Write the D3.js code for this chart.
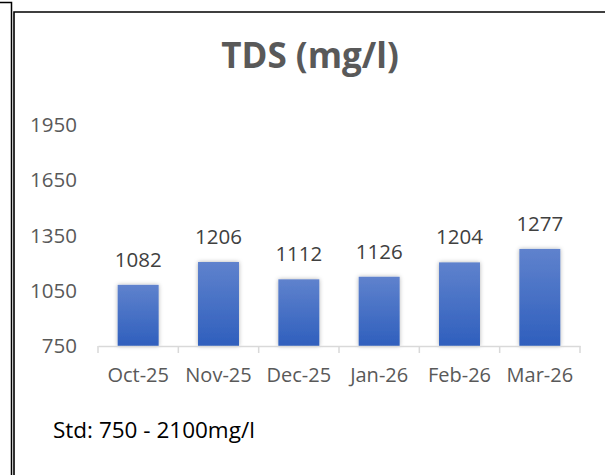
<!DOCTYPE html>
<html><head><meta charset="utf-8">
<script src="https://cdn.jsdelivr.net/npm/d3@7/dist/d3.min.js"></script>
<style>html,body{margin:0;padding:0;background:#fff;}svg{display:block;}</style>
</head><body>
<script>
const categories = ["Oct-25","Nov-25","Dec-25","Jan-26","Feb-26","Mar-26"];
const values = [1082, 1206, 1112, 1126, 1204, 1277];
const yTicks = [750, 1050, 1350, 1650, 1950];
const title = "TDS (mg/l)";
const note = "Std: 750 - 2100mg/l";

const W = 605, H = 475;
const svg = d3.select("body").append("svg").attr("width", W).attr("height", H);
const font = "'Open Sans', sans-serif";

const defs = svg.append("defs");
const grad = defs.append("linearGradient").attr("id","bg").attr("x1",0).attr("y1",0).attr("x2",0).attr("y2",1);
grad.append("stop").attr("offset","0%").attr("stop-color","#5f82cd");
grad.append("stop").attr("offset","100%").attr("stop-color","#2f5fbd");
const f = defs.append("filter").attr("id","sh").attr("x","-30%").attr("y","-30%").attr("width","160%").attr("height","160%");
f.append("feDropShadow").attr("dx",0).attr("dy",0).attr("stdDeviation",2).attr("flood-color","#000").attr("flood-opacity",0.3);

// frame lines
svg.append("path").attr("d","M0,2.5H11.5V475").attr("fill","none").attr("stroke","#000").attr("stroke-width",1.5);
svg.append("path").attr("d","M14,475V12H605").attr("fill","none").attr("stroke","#000").attr("stroke-width",1.6);

const x = d3.scaleBand().domain(categories).range([98, 580]).paddingInner(0.49).paddingOuter(0.245);
const y = d3.scaleLinear().domain([750, 1950]).range([346, 125]);

svg.append("text").attr("x", 310).attr("y", 68).attr("text-anchor","middle")
  .attr("font-family", font).attr("font-weight","bold").attr("font-size",35).attr("fill","#595959").text(title);

// y axis labels
const ya = svg.append("g").attr("transform","translate(77,0)")
  .call(d3.axisLeft(y).tickValues(yTicks).tickFormat(d3.format("d")).tickSize(0).tickPadding(0));
ya.select(".domain").remove();
ya.selectAll("text").attr("font-family", font).attr("font-size",20.5).attr("fill","#595959");

// bars
svg.append("g").selectAll("rect").data(values).join("rect")
  .attr("x",(d,i)=>x(categories[i])).attr("width",x.bandwidth())
  .attr("y",d=>y(d)).attr("height",d=>y(750)-y(d))
  .attr("fill","url(#bg)").attr("filter","url(#sh)");

// value labels
svg.append("g").selectAll("text").data(values).join("text")
  .attr("x",(d,i)=>x(categories[i])+x.bandwidth()/2).attr("y",d=>y(d)-18)
  .attr("text-anchor","middle").attr("font-family",font).attr("font-size",20.5).attr("fill","#404040")
  .text(d=>d);

// x axis
const xa = svg.append("g").attr("transform","translate(0,346)")
  .call(d3.axisBottom(x).tickSize(0).tickPadding(22));
xa.select(".domain").attr("stroke","#d9d9d9").attr("stroke-width",1.5);
xa.selectAll("text").attr("font-family",font).attr("font-size",20).attr("fill","#595959");
const bounds = d3.range(categories.length+1).map(i => 98 + i*(580-98)/categories.length);
xa.selectAll("line.tk").data(bounds).join("line").attr("class","tk")
  .attr("x1",d=>d).attr("x2",d=>d).attr("y1",0).attr("y2",7)
  .attr("stroke","#d9d9d9").attr("stroke-width",1.5);

svg.append("text").attr("x",53).attr("y",438).attr("font-family",font).attr("font-size",22.5).attr("fill","#000").text(note);
</script>
</body></html>
